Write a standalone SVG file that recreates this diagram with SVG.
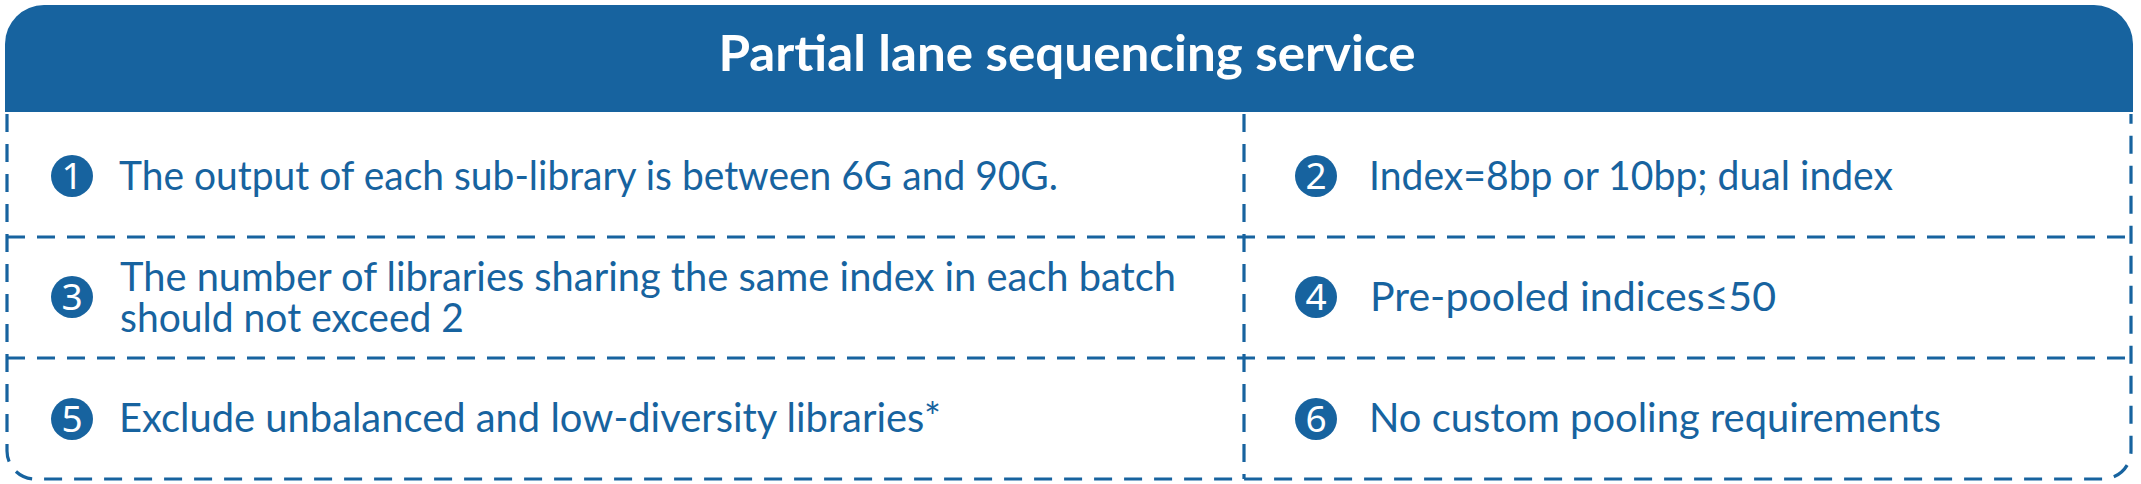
<svg xmlns="http://www.w3.org/2000/svg" width="2141" height="484" viewBox="0 0 2141 484">
<style>
.dash{fill:none;stroke:#17639f;stroke-width:3.2;stroke-dasharray:18 12}
.num{fill:#17639f}
.numt{fill:#fff;font-family:"Noto Sans","Liberation Sans",sans-serif;font-size:37px;text-anchor:middle}
.t{fill:#17639f;font-family:Lato,"Noto Sans","Liberation Sans",sans-serif;font-size:40px}
.title{fill:#fff;font-family:Lato,"Liberation Sans",sans-serif;font-size:50px;font-weight:bold;text-anchor:middle}
</style>
<rect width="2141" height="484" fill="#fff"/>
<g id="header">
<path d="M5,112 V44 A39,39 0 0 1 44,5 H2094 A39,39 0 0 1 2133,44 V112 Z" fill="#17639f"/>
<text class="title" x="1067" y="71" textLength="697" lengthAdjust="spacingAndGlyphs">Partial lane sequencing service</text>
</g>
<g id="connectors">
<path class="dash" d="M7,114 V451 A28,28 0 0 0 35,479 H2103 A28,28 0 0 0 2131,451 V114"/>
<line class="dash" x1="7" y1="237" x2="2131" y2="237"/>
<line class="dash" x1="7" y1="358" x2="2131" y2="358"/>
<line class="dash" x1="1244" y1="114" x2="1244" y2="479"/>
</g>
<g id="item1">
<circle class="num" cx="72" cy="176" r="21"/>
<text class="numt" x="72" y="189">1</text>
<text class="t" x="119" y="190" textLength="939" lengthAdjust="spacingAndGlyphs">The output of each sub-library is between 6G and 90G.</text>
</g>
<g id="item2">
<circle class="num" cx="1316" cy="176" r="21"/>
<text class="numt" x="1316" y="189">2</text>
<text class="t" x="1369" y="190" textLength="524" lengthAdjust="spacingAndGlyphs">Index=8bp or 10bp; dual index</text>
</g>
<g id="item3">
<circle class="num" cx="72" cy="297" r="21"/>
<text class="numt" x="72" y="310">3</text>
<text class="t" x="120" y="291" textLength="1056" lengthAdjust="spacingAndGlyphs">The number of libraries sharing the same index in each batch</text>
<text class="t" x="120" y="332" textLength="344" lengthAdjust="spacingAndGlyphs">should not exceed 2</text>
</g>
<g id="item4">
<circle class="num" cx="1316" cy="297" r="21"/>
<text class="numt" x="1316" y="310">4</text>
<text class="t" x="1370" y="311" textLength="406" lengthAdjust="spacingAndGlyphs">Pre-pooled indices≤50</text>
</g>
<g id="item5">
<circle class="num" cx="72" cy="419" r="21"/>
<text class="numt" x="72" y="432">5</text>
<text class="t" x="119" y="432" textLength="822" lengthAdjust="spacingAndGlyphs">Exclude unbalanced and low-diversity libraries*</text>
</g>
<g id="item6">
<circle class="num" cx="1316" cy="419" r="21"/>
<text class="numt" x="1316" y="432">6</text>
<text class="t" x="1369" y="432" textLength="572" lengthAdjust="spacingAndGlyphs">No custom pooling requirements</text>
</g>
</svg>
